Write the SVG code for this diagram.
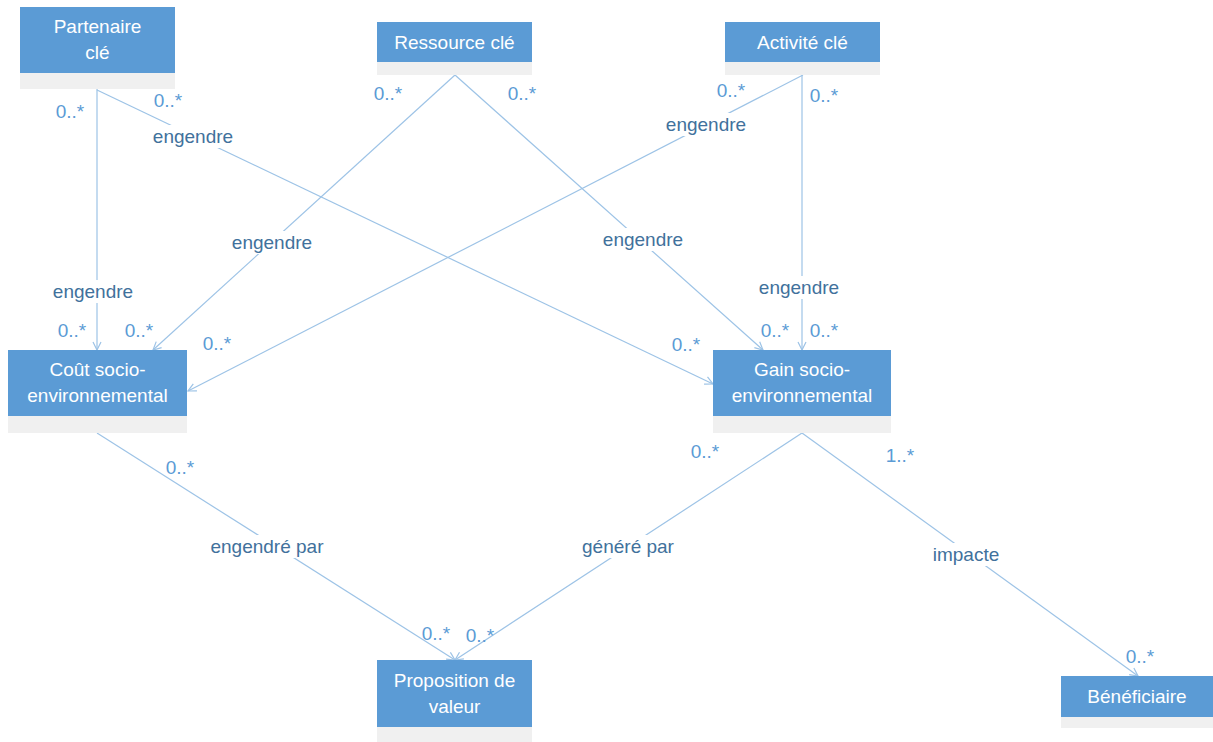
<svg xmlns="http://www.w3.org/2000/svg" width="1213" height="742" viewBox="0 0 1213 742">
  <style>
    .box { fill: #5B9BD5; }
    .band { fill: #F0F0F0; }
    .title { font-family: "Liberation Sans", Arial, sans-serif; font-size: 19px; fill: #FFFFFF; text-anchor: middle; }
    .edge { stroke: #9DC3E6; stroke-width: 1.2; fill: none; marker-end: url(#open); }
    .role { font-family: "Liberation Sans", Arial, sans-serif; font-size: 19px; fill: #41719C; text-anchor: middle; }
    .mult { font-family: "Liberation Sans", Arial, sans-serif; font-size: 19px; fill: #5B9BD5; text-anchor: middle; }
    .gap { fill: #FFFFFF; }
  </style>
  <defs>
    <marker id="open" markerWidth="10" markerHeight="10" refX="9" refY="5" orient="auto" markerUnits="userSpaceOnUse">
      <path d="M1,1 L9,5 L1,9" fill="none" stroke="#9DC3E6" stroke-width="1.2"/>
    </marker>
  </defs>
  <rect width="1213" height="742" fill="#FFFFFF"/>

  <!-- associations -->
  <g id="connectors">
    <line class="edge" x1="97" y1="89" x2="97" y2="350"/>
    <line class="edge" x1="97" y1="90" x2="713" y2="384"/>
    <line class="edge" x1="455" y1="75" x2="153" y2="350"/>
    <line class="edge" x1="455" y1="75" x2="763" y2="350"/>
    <line class="edge" x1="803" y1="75" x2="188" y2="391"/>
    <line class="edge" x1="802" y1="75" x2="802" y2="350"/>
    <line class="edge" x1="97" y1="433" x2="455" y2="660"/>
    <line class="edge" x1="802" y1="433" x2="455" y2="660"/>
    <line class="edge" x1="802" y1="433" x2="1138" y2="676"/>

    <!-- role names, on a white ground that cuts the line -->
    <rect class="gap" x="49" y="280" width="90" height="23"/>
    <text class="role" x="93" y="298">engendre</text>
    <rect class="gap" x="149" y="125" width="90" height="23"/>
    <text class="role" x="193" y="143">engendre</text>
    <rect class="gap" x="228" y="231" width="90" height="23"/>
    <text class="role" x="272" y="249">engendre</text>
    <rect class="gap" x="599" y="228" width="90" height="23"/>
    <text class="role" x="643" y="246">engendre</text>
    <rect class="gap" x="662" y="113" width="90" height="23"/>
    <text class="role" x="706" y="131">engendre</text>
    <rect class="gap" x="755" y="276" width="90" height="23"/>
    <text class="role" x="799" y="294">engendre</text>
    <rect class="gap" x="204" y="535" width="126" height="23"/>
    <text class="role" x="267" y="553">engendré par</text>
    <rect class="gap" x="576" y="535" width="104" height="23"/>
    <text class="role" x="628" y="553">généré par</text>
    <rect class="gap" x="927" y="543" width="78" height="23"/>
    <text class="role" x="966" y="561">impacte</text>

    <!-- multiplicities -->
    <text class="mult" x="70" y="118">0..*</text>
    <text class="mult" x="168" y="107">0..*</text>
    <text class="mult" x="72" y="337">0..*</text>
    <text class="mult" x="139" y="337">0..*</text>
    <text class="mult" x="217" y="350">0..*</text>
    <text class="mult" x="388" y="100">0..*</text>
    <text class="mult" x="522" y="100">0..*</text>
    <text class="mult" x="731" y="97">0..*</text>
    <text class="mult" x="824" y="102">0..*</text>
    <text class="mult" x="775" y="337">0..*</text>
    <text class="mult" x="824" y="337">0..*</text>
    <text class="mult" x="686" y="351">0..*</text>
    <text class="mult" x="180" y="474">0..*</text>
    <text class="mult" x="436" y="640">0..*</text>
    <text class="mult" x="480" y="642">0..*</text>
    <text class="mult" x="705" y="458">0..*</text>
    <text class="mult" x="900" y="462">1..*</text>
    <text class="mult" x="1140" y="663">0..*</text>
  </g>

  <g id="partenaire-cle">
    <rect class="box" x="20" y="7" width="155" height="66"/>
    <rect class="band" x="20" y="73" width="155" height="16"/>
    <text class="title" x="97.5" y="33">Partenaire</text>
    <text class="title" x="97.5" y="59">clé</text>
  </g>
  <g id="ressource-cle">
    <rect class="box" x="377" y="22" width="155" height="40"/>
    <rect class="band" x="377" y="62" width="155" height="13"/>
    <text class="title" x="454.5" y="49">Ressource clé</text>
  </g>
  <g id="activite-cle">
    <rect class="box" x="725" y="22" width="155" height="40"/>
    <rect class="band" x="725" y="62" width="155" height="13"/>
    <text class="title" x="802.5" y="49">Activité clé</text>
  </g>
  <g id="cout-socio-environnemental">
    <rect class="box" x="8" y="350" width="179" height="66"/>
    <rect class="band" x="8" y="416" width="179" height="17"/>
    <text class="title" x="97.5" y="376">Coût socio-</text>
    <text class="title" x="97.5" y="402">environnemental</text>
  </g>
  <g id="gain-socio-environnemental">
    <rect class="box" x="713" y="350" width="178" height="66"/>
    <rect class="band" x="713" y="416" width="178" height="17"/>
    <text class="title" x="802" y="376">Gain socio-</text>
    <text class="title" x="802" y="402">environnemental</text>
  </g>
  <g id="proposition-de-valeur">
    <rect class="box" x="377" y="660" width="155" height="67"/>
    <rect class="band" x="377" y="727" width="155" height="15"/>
    <text class="title" x="454.5" y="687">Proposition de</text>
    <text class="title" x="454.5" y="713">valeur</text>
  </g>
  <g id="beneficiaire">
    <rect class="box" x="1061" y="676" width="152" height="41"/>
    <rect class="band" x="1061" y="717" width="152" height="11"/>
    <text class="title" x="1137" y="703">Bénéficiaire</text>
  </g>
</svg>
